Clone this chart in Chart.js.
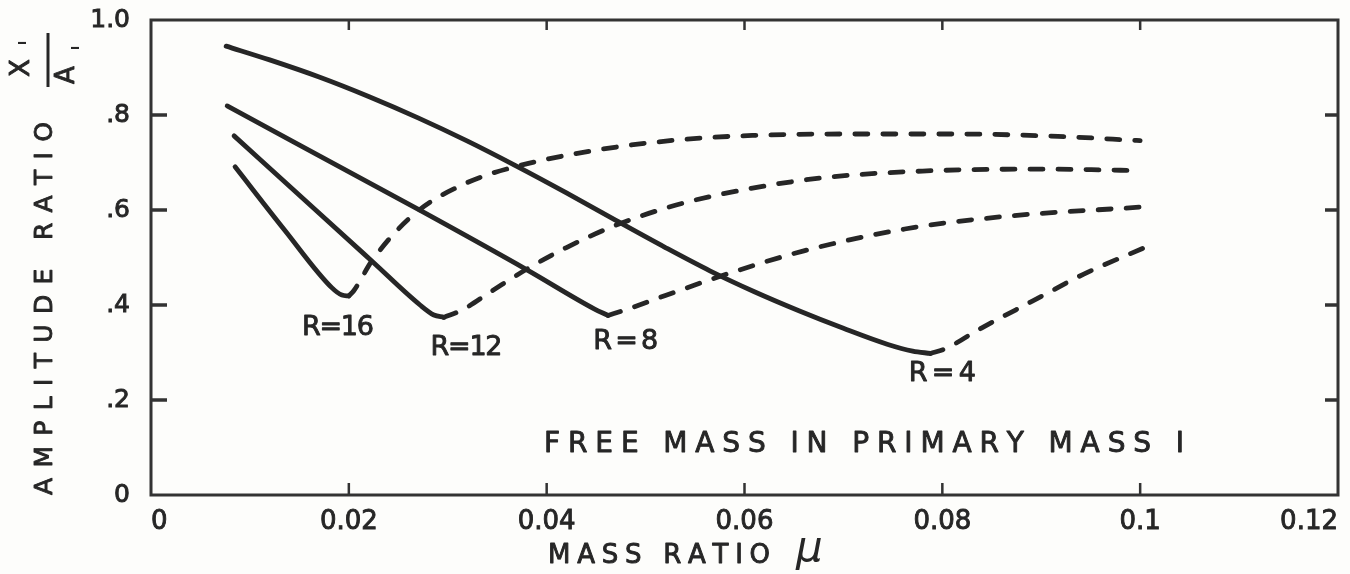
<!DOCTYPE html>
<html>
<head>
<meta charset="utf-8">
<title>Amplitude ratio vs mass ratio</title>
<script src="https://cdn.jsdelivr.net/npm/chart.js@4.4.1/dist/chart.umd.min.js"></script>
<style>
    html, body { margin: 0; padding: 0; background: #fdfdfb; }
    canvas { display: block; }
</style>
</head>
<body>
<canvas id="chart_amplitude" width="1350" height="574"></canvas>
<script>
{
    // [mass ratio, amplitude ratio]
    // solid part runs down to the minimum, dashed part climbs from it
    const r16_solid = [[0.0085, 0.691], [0.0135, 0.558], [0.0183, 0.436], [0.0193, 0.421], [0.0200, 0.419]];
    const r16_dashed = [[0.0200, 0.419], [0.0205, 0.430], [0.0224, 0.495], [0.0267, 0.593], [0.0318, 0.656],
        [0.0368, 0.691], [0.0453, 0.727], [0.0530, 0.747], [0.0608, 0.757], [0.0711, 0.760],
        [0.0814, 0.760], [0.0917, 0.755], [0.1000, 0.746]];

    const r12_solid = [[0.0084, 0.756], [0.0167, 0.599], [0.0224, 0.491], [0.0272, 0.400], [0.0286, 0.379],
        [0.0296, 0.374]];
    const r12_dashed = [[0.0296, 0.374], [0.0315, 0.390], [0.0345, 0.430], [0.0381, 0.477], [0.0420, 0.521],
        [0.0470, 0.568], [0.0530, 0.610], [0.0600, 0.643], [0.0680, 0.668], [0.0780, 0.682],
        [0.0900, 0.686], [0.1000, 0.683]];

    const r8_solid = [[0.0077, 0.819], [0.0274, 0.597], [0.0381, 0.473], [0.0448, 0.392], [0.0462, 0.378]];
    const r8_dashed = [[0.0462, 0.378], [0.0480, 0.390], [0.0520, 0.420], [0.0582, 0.465], [0.0660, 0.514],
        [0.0762, 0.560], [0.0866, 0.587], [0.1000, 0.606]];

    const r4_solid = [[0.0076, 0.945], [0.0120, 0.916], [0.0170, 0.880], [0.0220, 0.839], [0.0270, 0.794],
        [0.0320, 0.745], [0.0368, 0.694], [0.0420, 0.636], [0.0470, 0.578], [0.0520, 0.521],
        [0.0565, 0.472], [0.0610, 0.428], [0.0655, 0.388], [0.0700, 0.351], [0.0745, 0.317],
        [0.0770, 0.303], [0.0788, 0.298]];
    const r4_dashed = [[0.0788, 0.298], [0.0803, 0.308], [0.0840, 0.352], [0.0891, 0.408], [0.0943, 0.465],
        [0.1008, 0.524]];

    const curve_labels = ['R=16', 'R=12', 'R=8', 'R=4'];
    // where each label sits: [mass ratio, amplitude ratio]
    const curve_label_at = [[0.0189, 0.351], [0.0319, 0.309], [0.0480, 0.322], [0.0800, 0.255]];

    const y_ticks = [0, 0.2, 0.4, 0.6, 0.8, 1.0];
    const y_tick_labels = ['0', '.2', '.4', '.6', '.8', '1.0'];
    const x_ticks = [0, 0.02, 0.04, 0.06, 0.08, 0.1, 0.12];
    const x_tick_labels = ['0', '0.02', '0.04', '0.06', '0.08', '0.1', '0.12'];

    const ink = '#262626';
    const font = 'DejaVu Sans';

    const ctx = document.getElementById('chart_amplitude');

    const toPoints = arr => arr.map(p => ({ x: p[0], y: p[1] }));
    const labelFor = (ticks, labels, v) => {
        const i = ticks.findIndex(t => Math.abs(t - v) < 1e-9);
        return i < 0 ? '' : labels[i];
    };

    function curve(points, dashed) {
        return {
            data: toPoints(points),
            borderColor: ink,
            borderWidth: 4.8,
            borderDash: dashed ? [13, 15] : [],
            borderCapStyle: 'round',
            borderJoinStyle: 'round',
            pointRadius: 0,
            cubicInterpolationMode: 'monotone',
            fill: false
        };
    }

    // draw a string spread out to a given width, like hand lettering
    function spaced(c, text, x, y, width) {
        const chars = [...text];
        let plain = 0;
        for (const ch of chars) plain += c.measureText(ch).width;
        const gap = chars.length > 1 ? (width - plain) / (chars.length - 1) : 0;
        let pos = x;
        for (const ch of chars) {
            c.strokeText(ch, pos, y);
            c.fillText(ch, pos, y);
            pos += c.measureText(ch).width + gap;
        }
    }

    const paper = {
        id: 'paper',
        beforeDraw(chart) {
            const c = chart.ctx;
            c.save();
            c.fillStyle = '#fdfdfb';
            c.fillRect(0, 0, chart.width, chart.height);
            c.restore();
        },
        afterDraw(chart) {
            const c = chart.ctx;
            const a = chart.chartArea;
            const xs = chart.scales.x;
            const ys = chart.scales.y;

            c.save();
            // frame
            c.strokeStyle = '#333';
            c.lineWidth = 3;
            c.strokeRect(a.left, a.top, a.right - a.left, a.bottom - a.top);

            // inward tick marks
            c.lineWidth = 3.5;
            c.beginPath();
            for (const v of y_ticks) {
                if (v === 0 || v === 1) continue;
                const py = ys.getPixelForValue(v);
                c.moveTo(a.left, py); c.lineTo(a.left + 16, py);
                c.moveTo(a.right, py); c.lineTo(a.right - 13, py);
            }
            c.stroke();
            c.lineWidth = 2.5;
            c.beginPath();
            for (const v of x_ticks) {
                if (v === 0 || v === 0.12) continue;
                const px = xs.getPixelForValue(v);
                c.moveTo(px, a.bottom); c.lineTo(px, a.bottom - 12);
                c.moveTo(px, a.top); c.lineTo(px, a.top + 10);
            }
            c.stroke();

            c.fillStyle = ink;
            c.strokeStyle = ink;
            c.lineWidth = 0.9;
            c.lineJoin = 'round';
            c.textBaseline = 'middle';
            c.textAlign = 'left';

            // curve labels
            c.font = `27px "${font}"`;
            const widths = [72, 72, 65, 67];
            curve_labels.forEach((t, i) => {
                const px = xs.getPixelForValue(curve_label_at[i][0]);
                const py = ys.getPixelForValue(curve_label_at[i][1]);
                spaced(c, t, px - widths[i] / 2, py, widths[i]);
            });

            // note inside the plot
            c.font = `28px "${font}"`;
            spaced(c, 'FREE MASS IN PRIMARY MASS I', 544, 445, 640);

            // x axis title
            c.font = `26px "${font}"`;
            spaced(c, 'MASS RATIO', 548, 556, 222);
            c.font = `italic 42px "${font}"`;
            c.fillText('\u03BC', 796, 550);

            // y axis title, reading upwards
            c.translate(45, 495);
            c.rotate(-Math.PI / 2);
            c.font = `25px "${font}"`;
            spaced(c, 'AMPLITUDE RATIO', 0, 0, 373);
            c.textAlign = 'center';
            c.font = `26px "${font}"`;
            c.strokeText('X', 427, -23); c.fillText('X', 427, -23);
            c.strokeText('A', 420, 22); c.fillText('A', 420, 22);
            c.font = `bold 11px "${font}"`;
            c.fillText('I', 452, -22);
            c.fillText('I', 447, 31);
            c.lineWidth = 3;
            c.beginPath();
            c.moveTo(408, 3); c.lineTo(462, 3);
            c.stroke();
            c.restore();
        }
    };

    new Chart(ctx, {
        type: 'line',
        data: {
            datasets: [
                curve(r16_solid, false), curve(r16_dashed, true),
                curve(r12_solid, false), curve(r12_dashed, true),
                curve(r8_solid, false), curve(r8_dashed, true),
                curve(r4_solid, false), curve(r4_dashed, true)
            ]
        },
        options: {
            responsive: false,
            animation: false,
            devicePixelRatio: 1,
            layout: { padding: { top: 20, right: 12, left: 0, bottom: 0 } },
            plugins: { legend: { display: false }, tooltip: { enabled: false } },
            scales: {
                x: {
                    type: 'linear',
                    min: 0,
                    max: 0.12,
                    afterFit: scale => {
                        scale.height = 79;
                        scale.paddingLeft = 0;
                        scale.paddingRight = 0;
                    },
                    afterBuildTicks: scale => { scale.ticks = x_ticks.map(v => ({ value: v })); },
                    grid: { display: false, drawTicks: false },
                    border: { display: false },
                    ticks: {
                        align: 'inner',
                        autoSkip: false,
                        padding: 12,
                        color: ink,
                        textStrokeColor: ink,
                        textStrokeWidth: 0.9,
                        font: { family: font, size: 26 },
                        maxRotation: 0,
                        callback: v => labelFor(x_ticks, x_tick_labels, v)
                    }
                },
                y: {
                    type: 'linear',
                    min: 0,
                    max: 1,
                    afterFit: scale => {
                        scale.width = 151;
                        scale.paddingTop = 0;
                        scale.paddingBottom = 0;
                    },
                    afterBuildTicks: scale => { scale.ticks = y_ticks.map(v => ({ value: v })); },
                    grid: { display: false, drawTicks: false },
                    border: { display: false },
                    ticks: {
                        padding: 21,
                        color: ink,
                        textStrokeColor: ink,
                        textStrokeWidth: 0.9,
                        font: { family: font, size: 25 },
                        callback: v => labelFor(y_ticks, y_tick_labels, v)
                    }
                }
            }
        },
        plugins: [paper]
    });
}
</script>
</body>
</html>
